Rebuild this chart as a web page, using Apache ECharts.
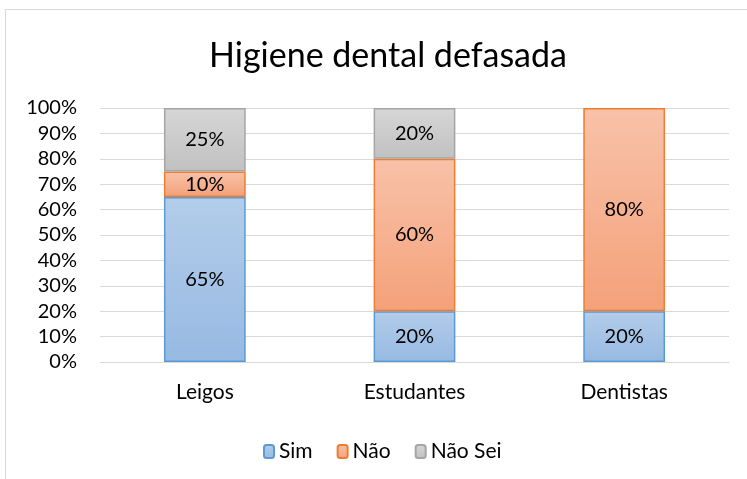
<!DOCTYPE html>
<html>
<head>
<meta charset="utf-8">
<script src="https://cdn.jsdelivr.net/npm/echarts@6/dist/echarts.min.js"></script>
<style>
  html, body { margin: 0; padding: 0; background: #fff; }
  #chart { width: 747px; height: 479px; }
</style>
</head>
<body>
<div id="chart"></div>
<script>
var categories = ['Leigos', 'Estudantes', 'Dentistas'];
var sim = [65, 20, 20];
var nao = [10, 60, 80];
var naoSei = [25, 20, 0];
var seriesNames = ['Sim', 'Não', 'Não Sei'];

var font = 'Lato, "Open Sans", sans-serif';

function grad(top, bottom) {
    return new echarts.graphic.LinearGradient(0, 0, 0, 1, [
        { offset: 0, color: top },
        { offset: 1, color: bottom }
    ]);
}

function mkSeries(name, data, top, bottom, border) {
    return {
        name: name,
        type: 'bar',
        stack: 'total',
        barWidth: '39%',
        data: data.map(function (v) { return v === 0 ? null : v; }),
        itemStyle: { color: grad(top, bottom), borderColor: border, borderWidth: 1.5 },
        label: {
            show: true,
            position: 'inside',
            formatter: '{c}%',
            color: '#000',
            fontSize: 20,
            fontFamily: font
        }
    };
}

var chart = echarts.init(document.getElementById('chart'));
var option = {
    animation: false,
    graphic: [{
        type: 'rect',
        shape: { x: 5.5, y: 9.5, width: 760, height: 500 },
        style: { fill: 'none', stroke: '#d9d9d9', lineWidth: 1 },
        silent: true
    }],
    title: {
        text: 'Higiene dental defasada',
        left: 383,
        textAlign: 'center',
        top: 34,
        textStyle: { fontSize: 34, fontWeight: 'normal', color: '#000', fontFamily: font }
    },
    legend: {
        data: seriesNames,
        top: 436,
        left: 258,
        itemWidth: 10,
        itemHeight: 13,
        itemGap: 24,
        textStyle: { fontSize: 21, color: '#000', fontFamily: font }
    },
    grid: { left: 100, right: 18, top: 108, bottom: 117, containLabel: false },
    xAxis: {
        type: 'category',
        data: categories,
        axisLine: { lineStyle: { color: '#d9d9d9', width: 1 } },
        axisTick: { show: false },
        axisLabel: { fontSize: 21, color: '#000', margin: 20, fontFamily: font }
    },
    yAxis: {
        type: 'value',
        min: 0,
        max: 100,
        interval: 10,
        axisLine: { show: false },
        axisTick: { show: false },
        splitLine: { lineStyle: { color: '#d9d9d9', width: 1 } },
        axisLabel: { formatter: '{value}%', fontSize: 20, color: '#000', margin: 23, fontFamily: font }
    },
    series: [
        mkSeries(seriesNames[0], sim, '#b3cdea', '#97b9e2', '#5b9bd5'),
        mkSeries(seriesNames[1], nao, '#f8c2a9', '#f4a179', '#ed7d31'),
        mkSeries(seriesNames[2], naoSei, '#d6d6d6', '#c1c1c1', '#a5a5a5')
    ]
};
chart.setOption(option);
</script>
</body>
</html>
